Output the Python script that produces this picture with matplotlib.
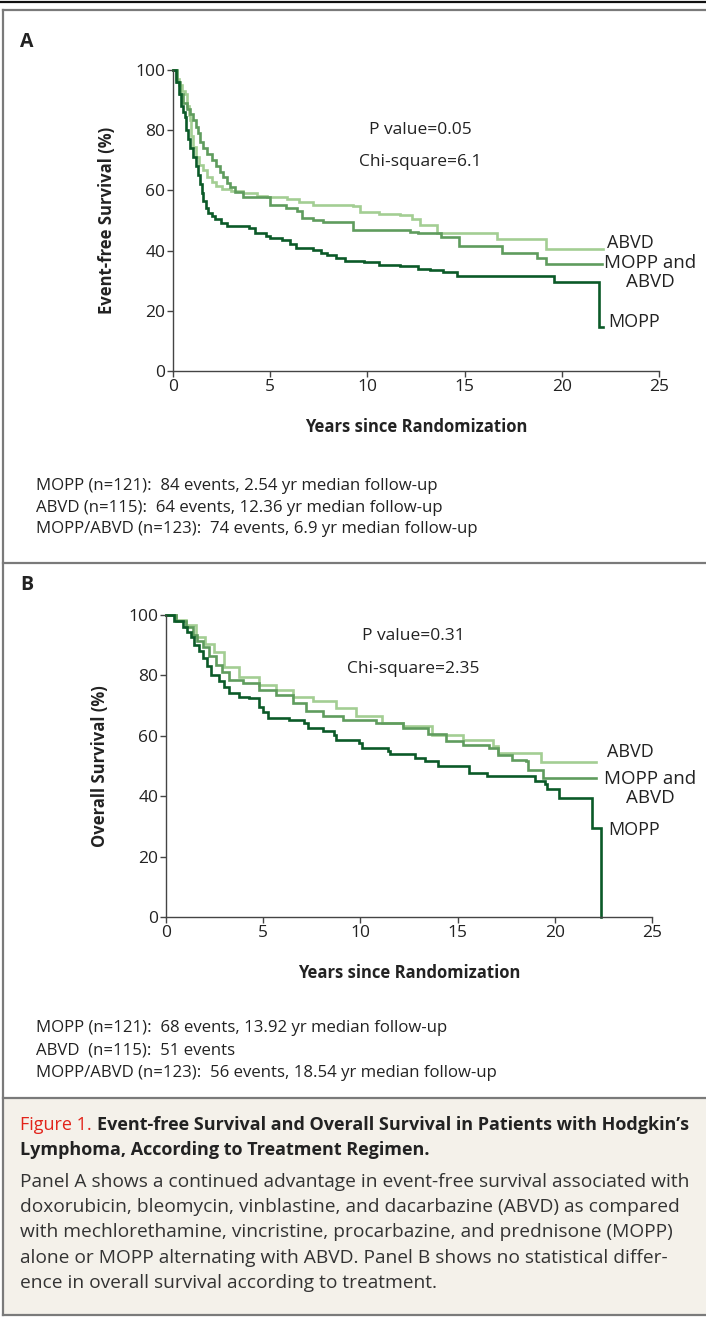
import matplotlib
matplotlib.use('Agg')
import matplotlib.pyplot as plt
from matplotlib.lines import Line2D
from matplotlib.patches import Rectangle

plt.rcParams['font.family'] = ['Open Sans', 'DejaVu Sans']

W, H = 706, 1317

# colours
dark = '#0b5a28'
mid = '#5f9c5d'
light = '#a3ce93'
grey = '#7a7a7a'
ink = '#222222'

# ---- panel A: event-free survival ----
efs_mopp_t = [0, 0.15, 0.3, 0.42, 0.5, 0.62, 0.68, 0.75, 0.9, 1.05, 1.2, 1.3, 1.39, 1.47, 1.56, 1.68, 1.82, 2.0,
              2.16, 2.45, 2.76, 3.9, 4.2, 4.8, 5.0, 5.6, 6.0, 6.35, 7.2, 7.6, 7.9, 8.4, 8.85, 9.8, 10.6, 11.7,
              12.6, 13.2, 13.9, 14.6, 19.6, 21.9, 22.1]
efs_mopp_s = [100, 96, 92, 88, 86, 84.5, 80, 77, 74, 71, 68, 65, 62, 59, 56.5, 54, 52.5, 51.5,
              50.5, 49.3, 48.2, 47.4, 45.8, 45, 44.2, 43.5, 42.2, 41, 40.2, 39.3, 38.5, 37.4, 36.4, 36.2, 35.2, 34.8,
              34, 33.5, 32.8, 31.4, 29.6, 14.5, 14.5]

efs_both_t = [0, 0.2, 0.35, 0.53, 0.7, 0.85, 1.05, 1.2, 1.3, 1.39, 1.55, 1.75, 1.99, 2.2, 2.4, 2.59, 2.8, 2.95,
              3.2, 3.6, 4.99, 5.8, 6.4, 6.62, 7.2, 7.73, 9.28, 12.2, 12.6, 13.8, 14.7, 16.9, 18.7, 19.2, 22.05]
efs_both_s = [100, 96, 92, 89, 87, 85.5, 83.4, 81, 79, 76, 74, 72, 70, 68, 66, 64.5, 62.5, 61,
              59.5, 57.9, 55.1, 54.2, 53.3, 50.8, 50.2, 49.6, 46.8, 46.3, 45.7, 44.4, 41.5, 39.1, 37.4, 35.7, 35.7]

efs_abvd_t = [0, 0.15, 0.3, 0.45, 0.62, 0.72, 0.8, 0.87, 0.95, 1.05, 1.2, 1.35, 1.56, 1.75, 1.99, 2.2, 2.5, 3.0,
              3.62, 4.3, 4.82, 5.85, 6.5, 7.22, 9.28, 9.62, 10.6, 11.7, 12.3, 12.7, 13.6, 16.65, 19.2, 22.1]
efs_abvd_s = [100, 97, 95, 93, 92, 88, 85, 83.4, 78, 74.5, 71, 68.5, 66.8, 64.5, 62.9, 61.5, 60.6, 59.8,
              59, 58.3, 57.7, 57.3, 56, 55.1, 54.8, 52.9, 52.3, 51.8, 50.4, 48.5, 45.7, 44, 40.4, 40.4]

# ---- panel B: overall survival ----
os_mopp_t = [0, 0.4, 0.86, 1.1, 1.29, 1.46, 1.7, 1.88, 2.1, 2.31, 2.74, 3.0, 3.26, 3.77, 4.28, 4.8, 5.0, 5.23,
             6.34, 7.11, 7.28, 8.06, 8.66, 8.74, 9.94, 10.1, 11.4, 11.5, 12.8, 13.3, 14.0, 15.6, 16.5, 19.0,
             19.5, 19.6, 20.2, 21.9, 22.4]
os_mopp_s = [100, 98, 96.1, 94.5, 92.8, 90.1, 88, 85.7, 83, 80.2, 78, 76, 74.2, 73, 72.5, 69.7, 67.8, 65.9,
             65.3, 64.2, 62.6, 61.5, 60.4, 58.7, 57.7, 56, 54.9, 54.1, 52.7, 51.6, 49.9, 47.8, 46.7, 45,
             43.9, 42.5, 39.5, 29.5, 0]

os_both_t = [0, 0.5, 1.03, 1.37, 1.6, 1.88, 2.2, 2.57, 2.9, 3.26, 3.94, 4.8, 5.66, 6.51, 7.2, 8.06, 9.09, 10.8,
             12.2, 13.5, 14.4, 15.3, 16.6, 17.1, 17.8, 18.5, 18.6, 19.4, 22.1]
os_both_s = [100, 98, 96.1, 93.4, 91.5, 89.5, 86.5, 83.5, 81, 78.5, 77.5, 75.2, 73.6, 70.9, 68.1, 66.4, 65.3, 64.2,
             62.6, 60.5, 58.2, 57.1, 56, 53.8, 52.1, 51.6, 48.8, 46.1, 46.1]

os_abvd_t = [0, 0.5, 1.03, 1.54, 2.0, 2.48, 3.0, 3.77, 4.8, 5.66, 6.51, 7.54, 8.74, 9.77, 11.1, 12.2, 13.7, 15.3,
             16.8, 17.1, 19.3, 22.1]
os_abvd_s = [100, 98.5, 96.7, 92.8, 90.3, 87.9, 82.9, 79.6, 76.9, 75.2, 73, 71.4, 69.2, 66.4, 64.2, 63.1, 60.4, 58.5,
             56.5, 54.4, 51.3, 51.3]

xticks = [0, 5, 10, 15, 20, 25]
yticks = [0, 20, 40, 60, 80, 100]

notes_a = ['MOPP (n=121):  84 events, 2.54 yr median follow-up',
           'ABVD (n=115):  64 events, 12.36 yr median follow-up',
           'MOPP/ABVD (n=123):  74 events, 6.9 yr median follow-up']
notes_b = ['MOPP (n=121):  68 events, 13.92 yr median follow-up',
           'ABVD  (n=115):  51 events',
           'MOPP/ABVD (n=123):  56 events, 18.54 yr median follow-up']

caption_body = ['Panel A shows a continued advantage in event-free survival associated with',
                'doxorubicin, bleomycin, vinblastine, and dacarbazine (ABVD) as compared',
                'with mechlorethamine, vincristine, procarbazine, and prednisone (MOPP)',
                'alone or MOPP alternating with ABVD. Panel B shows no statistical differ-',
                'ence in overall survival according to treatment.']


def fx(x):
    return x / W


def fy(y):
    return 1 - y / H


fig = plt.figure(figsize=(W / 100, H / 100), dpi=100)

# frames
fig.add_artist(Rectangle((fx(3), fy(1315)), fx(703), 217 / H, facecolor='#f4f1ea', edgecolor='none'))
fig.add_artist(Line2D([0, 1], [fy(2), fy(2)], color='#111111', lw=1.6))
for yy in [10, 563, 1098, 1315]:
    fig.add_artist(Line2D([fx(3), 1], [fy(yy), fy(yy)], color=grey, lw=1.6))
fig.add_artist(Line2D([fx(3), fx(3)], [fy(10), fy(1315)], color=grey, lw=1.6))


def panel(rect, curves, ylabel, pval, chi, ptxt_y, lab_x, lab_y):
    ax = fig.add_axes(rect)
    for t, s, c in curves:
        ax.plot(t, s, drawstyle='steps-post', color=c, lw=1.9, clip_on=False, solid_joinstyle='miter')
    ax.set_xlim(0, 25)
    ax.set_ylim(0, 100)
    ax.set_xticks(xticks)
    ax.set_yticks(yticks)
    for sp in ['top', 'right']:
        ax.spines[sp].set_visible(False)
    for sp in ['left', 'bottom']:
        ax.spines[sp].set_color('#444444')
        ax.spines[sp].set_linewidth(1.0)
    ax.tick_params(direction='out', length=4, width=1, color='#444444', labelsize=12.5, labelcolor=ink, pad=1.5)
    ax.set_xlabel('Years since Randomization', fontsize=12, fontweight='bold', color=ink, labelpad=17)
    ax.set_ylabel(ylabel, fontsize=12, fontweight='bold', color=ink, labelpad=14)
    ax.text(0.508, ptxt_y[0], pval, transform=ax.transAxes, ha='center', va='center', fontsize=12.5, color=ink)
    ax.text(0.508, ptxt_y[1], chi, transform=ax.transAxes, ha='center', va='center', fontsize=12.5, color=ink)
    # curve labels
    ax.text(lab_x[0], lab_y[0], 'ABVD', ha='left', va='center', fontsize=13, color=ink, clip_on=False)
    ax.text(lab_x[1], lab_y[1], 'MOPP and\nABVD', ha='center', va='top', fontsize=13.5, color=ink,
            multialignment='center', linespacing=1.08, clip_on=False)
    ax.text(lab_x[2], lab_y[2], 'MOPP', ha='left', va='center', fontsize=13, color=ink, clip_on=False)
    return ax


axA = panel([fx(173), fy(371), 486 / W, 301 / H],
            [(efs_abvd_t, efs_abvd_s, light), (efs_both_t, efs_both_s, mid), (efs_mopp_t, efs_mopp_s, dark)],
            'Event-free Survival (%)', 'P value=0.05', 'Chi-square=6.1', (0.80, 0.694),
            (22.3, 24.55, 22.4), (42.5, 38.8, 16.3))
axB = panel([fx(166), fy(917), 486 / W, 302 / H],
            [(os_abvd_t, os_abvd_s, light), (os_both_t, os_both_s, mid), (os_mopp_t, os_mopp_s, dark)],
            'Overall Survival (%)', 'P value=0.31', 'Chi-square=2.35', (0.93, 0.82),
            (22.7, 24.9, 22.75), (54.6, 48.6, 28.8))

fig.text(fx(20), fy(42), 'A', fontsize=14, fontweight='bold', color=ink, ha='left', va='center')
fig.text(fx(20), fy(585), 'B', fontsize=14, fontweight='bold', color=ink, ha='left', va='center')

for i, line in enumerate(notes_a):
    fig.text(fx(36), fy(486 + i * 21.5), line, fontsize=12.1, color=ink, ha='left', va='center')
for i, line in enumerate(notes_b):
    fig.text(fx(36), fy(1028 + i * 22.5), line, fontsize=12.1, color=ink, ha='left', va='center')

# caption
renderer = fig.canvas.get_renderer()
t1 = fig.text(fx(20), fy(1125), 'Figure 1.', fontsize=13, color='#e2231a', ha='left', va='center')
bb = t1.get_window_extent(renderer)
fig.text(bb.x1 / W + 5 / W, fy(1125), "Event-free Survival and Overall Survival in Patients with Hodgkin\u2019s",
         fontsize=13, fontweight='bold', color=ink, ha='left', va='center')
fig.text(fx(20), fy(1150), 'Lymphoma, According to Treatment Regimen.', fontsize=13, fontweight='bold',
         color=ink, ha='left', va='center')
for i, line in enumerate(caption_body):
    fig.text(fx(20), fy(1182 + i * 25.2), line, fontsize=13.8, color='#333333', ha='left', va='center')

fig.savefig('out.png', dpi=100)
